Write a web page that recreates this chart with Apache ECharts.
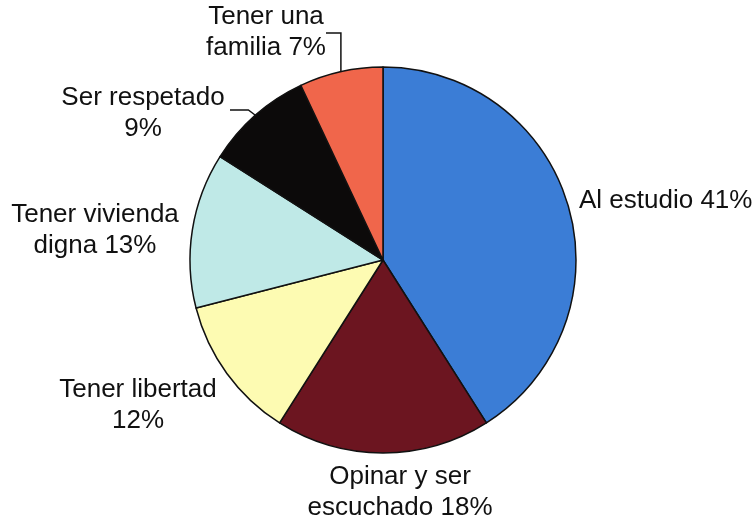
<!DOCTYPE html>
<html>
<head>
<meta charset="utf-8">
<script src="https://cdn.jsdelivr.net/npm/echarts@6/dist/echarts.min.js"></script>
<style>
  html, body { margin: 0; padding: 0; background: #fff; }
  #chart { width: 754px; height: 521px; }
</style>
</head>
<body>
<div id="chart"></div>
<script>
// datos del gráfico
var categories = ['Al estudio', 'Opinar y ser escuchado', 'Tener libertad', 'Tener vivienda digna', 'Ser respetado', 'Tener una familia'];
var values = [41, 18, 12, 13, 9, 7];
var labelText = ['Al estudio 41%', 'Opinar y ser\nescuchado 18%', 'Tener libertad\n12%', 'Tener vivienda\ndigna 13%', 'Ser respetado\n9%', 'Tener una\nfamilia 7%'];
var colors = ['#3b7dd6', '#6c1520', '#fdfbb2', '#bfe9e7', '#0c0a0a', '#f0664b'];

// posición de las etiquetas (x, y, alineación)
var labelPos = [
  [579, 201, 'left'],
  [400, 492, 'center'],
  [138, 405, 'center'],
  [95, 230, 'center'],
  [143, 113, 'center'],
  [266, 32, 'center']
];
var withLine = [false, false, false, false, true, true];

var chart = echarts.init(document.getElementById('chart'));

var seriesData = categories.map(function (name, i) {
  return {
    name: name,
    value: values[i],
    itemStyle: { color: colors[i] },
    label: { formatter: labelText[i] },
    labelLine: { show: withLine[i] }
  };
});

var option = {
  animation: false,
  series: [{
    type: 'pie',
    center: [383, 260],
    radius: 193,
    startAngle: 90,
    clockwise: true,
    itemStyle: {
      borderColor: '#111',
      borderWidth: 1.5
    },
    label: {
      show: true,
      position: 'outside',
      overflow: 'none',
      fontFamily: 'Liberation Sans, Arial, sans-serif',
      fontSize: 26,
      lineHeight: 31,
      color: '#111'
    },
    labelLine: {
      length: 10,
      length2: 10,
      lineStyle: { color: '#111', width: 1.5 }
    },
    labelLayout: function (params) {
      var i = params.dataIndex;
      var p = labelPos[i];
      var res = {
        x: p[0],
        y: p[1],
        align: p[2],
        verticalAlign: 'middle'
      };
      if (withLine[i] && params.labelLinePoints) {
        var a = params.labelLinePoints[0];
        if (i === 5) {
          res.labelLinePoints = [a, [a[0], 33], [326, 33]];
        } else if (i === 4) {
          res.labelLinePoints = [a, [a[0] - 7, 110], [230, 110]];
        }
      }
      return res;
    },
    data: seriesData
  }]
};

chart.setOption(option);
</script>
</body>
</html>
